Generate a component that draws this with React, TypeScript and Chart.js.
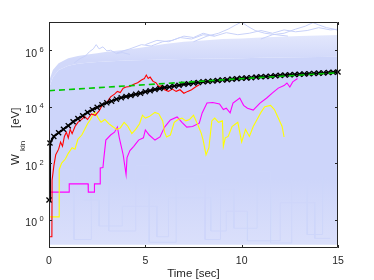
import React, { useEffect, useRef } from "react";
import { Chart, registerables } from "chart.js";

Chart.register(...registerables);

// ---- envelope of the many light-blue traces ----
const blueTime = [0, 0.05, 0.2, 0.5, 1, 1.5, 2, 2.5, 3, 4, 5, 6, 7, 8, 9, 10, 11, 12, 13, 14, 15];
const blueFloor = [0.13, 0.13, 0.13, 0.13, 0.13, 0.13, 0.13, 0.13, 0.13, 0.13, 0.13, 0.13, 0.13, 0.13, 0.13, 0.13, 0.13, 0.13, 0.13, 0.13, 0.13];
const blueDenseTop = [2.5e4, 5.6e4, 1.1e5, 2.0e5, 2.8e5, 3.3e5, 3.6e5, 3.8e5, 4.0e5, 4.3e5, 4.5e5, 4.7e5, 4.9e5, 5.0e5, 5.1e5, 5.25e5, 5.4e5, 5.5e5, 5.6e5, 5.75e5, 5.9e5];
const blueSparseTop = [5.0e4, 1.0e5, 2.0e5, 3.5e5, 5.2e5, 6.3e5, 7.1e5, 7.9e5, 8.9e5, 1.05e6, 1.3e6, 1.65e6, 2.0e6, 2.2e6, 2.5e6, 2.6e6, 2.8e6, 3.0e6, 3.2e6, 3.3e6, 3.5e6];

// ---- a few individual light-blue traces ----
const u1Time = [1.3, 1.6, 1.9, 2.1, 2.3, 2.45, 2.6, 2.8, 3.0, 3.2, 3.5, 3.8, 4.2];
const u1Values = [3.5e5, 5.0e5, 6.3e5, 8.9e5, 1.12e6, 1.58e6, 1.12e6, 1.32e6, 9.5e5, 1.0e6, 7.6e5, 8.3e5, 7.1e5];
const u2Time = [3.5, 4.2, 4.8, 5.3, 5.9, 6.4, 7.0, 7.5, 8.0, 8.6];
const u2Values = [7.9e5, 1.12e6, 1.58e6, 1.41e6, 2.0e6, 2.24e6, 3.16e6, 2.82e6, 4.0e6, 3.16e6];
const u3Time = [7.5, 8.2, 8.8, 9.3, 9.7, 10.0, 10.3, 10.7, 11.2, 11.8, 12.4];
const u3Values = [2.0e6, 3.16e6, 4.0e6, 5.6e6, 7.9e6, 1.0e7, 7.1e6, 5.0e6, 4.0e6, 3.55e6, 3.16e6];
const u4Time = [11.0, 11.6, 12.2, 12.8, 13.3, 13.7, 14.0, 14.4, 14.8, 15];
const u4Values = [2.5e6, 3.55e6, 4.0e6, 5.6e6, 7.1e6, 9.5e6, 7.9e6, 6.3e6, 5.6e6, 5.0e6];
const u5Time = [5.0, 5.6, 6.2, 6.8, 7.4, 8.0, 8.6, 9.2, 9.8, 10.4, 11.0, 11.6, 12.2, 12.8, 13.4, 14.0, 14.6, 15];
const u5Values = [1.58e6, 2.24e6, 2.0e6, 2.82e6, 2.5e6, 3.55e6, 3.16e6, 4.2e6, 3.55e6, 4.0e6, 5.0e6, 4.0e6, 5.25e6, 4.5e6, 5.0e6, 6.3e6, 5.25e6, 5.6e6];
const d1Time = [0.4, 1.3, 1.3, 2.2, 2.2, 3.1, 3.1, 4.5, 4.5, 5.2, 5.2, 6.6, 6.6, 7.5];
const d1Values = [60, 60, 0.2, 0.2, 25, 25, 0.4, 0.4, 80, 80, 0.16, 0.16, 30, 30];
const d2Time = [7.5, 8.1, 8.1, 8.9, 8.9, 9.6, 9.6, 10.8, 10.8, 11.5, 11.5, 12.6, 12.6, 13.4, 13.4, 14.2, 14.2, 15];
const d2Values = [40, 40, 0.2, 0.2, 12, 12, 0.5, 0.5, 50, 50, 0.15, 0.15, 20, 20, 0.3, 0.3, 35, 35];
const d3Time = [1.8, 2.6, 2.6, 3.8, 3.8, 5.6, 5.6, 6.2, 6.2, 8.4, 8.4, 9.2, 9.2, 10.3, 10.3, 12.0, 12.0, 13.8, 13.8, 14.6];
const d3Values = [5, 5, 0.6, 0.6, 3, 3, 0.25, 0.25, 6, 6, 0.4, 0.4, 2, 2, 0.18, 0.18, 4, 4, 0.22, 0.22];

// ---- highlighted traces ----
const redTime = [0, 0.15, 0.16, 0.25, 0.35, 0.5, 0.6, 0.7, 0.8, 0.9, 1.0, 1.1, 1.2, 1.35, 1.5, 1.7, 1.85, 2.0, 2.2, 2.4, 2.6, 2.8, 3.0, 3.2, 3.4, 3.55, 3.7, 3.85, 4.0, 4.2, 4.4, 4.6, 4.8, 4.95, 5.05, 5.15, 5.25, 5.4, 5.55, 5.7, 5.85, 6.0, 6.2, 6.4, 6.6, 6.8, 7.0, 7.2, 7.4, 7.6, 7.8];
const redValues = [0.25, 0.25, 25, 79, 200, 316, 560, 400, 890, 1260, 790, 1580, 1120, 2000, 2800, 3550, 4470, 3550, 5600, 5000, 7100, 1.26e4, 1.41e4, 2.24e4, 2.8e4, 3.5e4, 3.2e4, 4.5e4, 5.0e4, 5.2e4, 6.3e4, 7.1e4, 8.9e4, 1.0e5, 1.32e5, 1.0e5, 1.12e5, 7.9e4, 7.1e4, 5.2e4, 5.6e4, 4.0e4, 3.5e4, 4.2e4, 3.5e4, 4.0e4, 3.0e4, 3.5e4, 4.0e4, 5.0e4, 6.0e4];

const yellowTime = [0, 0.52, 0.53, 0.65, 0.85, 1.0, 1.2, 1.35, 1.5, 1.7, 1.85, 2.0, 2.15, 2.3, 2.4, 2.55, 2.7, 2.9, 3.1, 3.3, 3.5, 3.7, 3.9, 4.1, 4.3, 4.5, 4.7, 4.85, 5.0, 5.2, 5.5, 5.7, 5.9, 6.0, 6.1, 6.3, 6.5, 6.7, 6.9, 7.1, 7.3, 7.5, 7.7, 7.9, 8.0, 8.15, 8.3, 8.45, 8.6, 8.8, 9.0, 9.05, 9.15, 9.3, 9.5, 9.8, 10.0, 10.2, 10.4, 10.6, 10.8, 11.0, 11.2, 11.5, 11.7, 11.9, 12.1, 12.2];
const yellowValues = [1.26, 1.26, 60, 100, 141, 224, 355, 316, 708, 1000, 1580, 2510, 3550, 5620, 6310, 3980, 2820, 3550, 2510, 2000, 1580, 1780, 2820, 2000, 1120, 1580, 2510, 5010, 3980, 4470, 6310, 5620, 3160, 1260, 851, 1000, 2820, 3550, 3980, 3160, 3550, 5010, 2510, 1170, 661, 200, 355, 3160, 3980, 2820, 3160, 398, 794, 891, 2000, 2820, 562, 1580, 891, 2000, 3550, 6310, 1e4, 1.12e4, 7940, 3980, 2000, 851];

const magentaTime = [0, 1.04, 1.05, 2.03, 2.04, 2.35, 2.36, 2.65, 2.66, 2.8, 2.85, 2.95, 3.2, 3.4, 3.55, 3.65, 3.75, 3.85, 4.0, 4.05, 4.2, 4.4, 4.65, 4.9, 5.0, 5.2, 5.5, 5.76, 6.0, 6.3, 6.65, 6.9, 7.15, 7.45, 7.8, 7.95, 8.2, 8.5, 8.85, 9.05, 9.2, 9.4, 9.55, 9.9, 10.1, 10.3, 10.6, 10.95, 11.3, 11.6, 11.9, 12.2, 12.35, 12.5, 12.65, 12.9];
const magentaValues = [9.5, 9.5, 18.6, 18.6, 9.5, 9.5, 18.6, 18.6, 68, 71, 158, 661, 1000, 1260, 1910, 794, 398, 200, 40, 158, 282, 398, 661, 794, 1510, 1000, 661, 851, 1910, 3390, 4370, 2820, 1910, 2000, 2630, 6030, 1.35e4, 1.41e4, 1.26e4, 7940, 8910, 6030, 1.35e4, 2.04e4, 1.12e4, 8910, 7590, 1.35e4, 2.04e4, 3.09e4, 4.57e4, 5.62e4, 6.92e4, 5.01e4, 7.59e4, 1.0e5];

const meanTime = [0, 0.05, 0.25, 0.5, 0.75, 1, 1.25, 1.5, 1.75, 2, 2.25, 2.5, 2.75, 3, 3.25, 3.5, 3.75, 4, 4.25, 4.5, 4.75, 5, 5.25, 5.5, 5.75, 6, 6.25, 6.5, 6.75, 7, 7.25, 7.5, 7.75, 8, 8.25, 8.5, 8.75, 9, 9.25, 9.5, 9.75, 10, 10.25, 10.5, 10.75, 11, 11.25, 11.5, 11.75, 12, 12.25, 12.5, 12.75, 13, 13.25, 13.5, 13.75, 14, 14.25, 14.5, 14.75, 15];
const meanValues = [5, 520, 890, 1200, 1600, 2140, 2950, 3800, 4800, 6300, 7900, 9500, 1.17e4, 1.38e4, 1.58e4, 1.86e4, 2.1e4, 2.3e4, 2.5e4, 2.75e4, 3.0e4, 3.4e4, 3.7e4, 4.1e4, 4.4e4, 4.8e4, 5.0e4, 5.4e4, 5.75e4, 6.2e4, 6.5e4, 6.9e4, 7.2e4, 7.6e4, 7.9e4, 8.1e4, 8.5e4, 8.9e4, 9.1e4, 9.5e4, 9.8e4, 1.02e5, 1.05e5, 1.07e5, 1.12e5, 1.15e5, 1.17e5, 1.2e5, 1.26e5, 1.29e5, 1.32e5, 1.35e5, 1.38e5, 1.41e5, 1.45e5, 1.48e5, 1.51e5, 1.55e5, 1.58e5, 1.62e5, 1.66e5, 1.7e5];

const fitTime = [0, 15];
const fitValues = [3.7e4, 1.6e5];

// ---- axes ----
const xTicks = [0, 5, 10, 15];
const yTicks = [1, 1e2, 1e4, 1e6];
const yTickExponents = ["0", "2", "4", "6"];
const xTitle = "Time [sec]";
const yTitleMain = "W";
const yTitleSub = "kin";
const yTitleUnit = "[eV]";

const FONT = "'Liberation Sans', Arial, Helvetica, sans-serif";
const AXIS_COLOR = "#262626";
const DENSE = "rgb(205,213,250)";
const LINE_BLUE = "rgb(200,209,249)";

const pts = (t: number[], v: number[]) => t.map((x, i) => ({ x, y: v[i] }));

const axesPlugin = {
  id: "matlabAxes",
  afterDraw(chart: any) {
    const { ctx, chartArea: a, scales } = chart;
    const xs = scales.x;
    const ys = scales.y;
    ctx.save();
    ctx.strokeStyle = AXIS_COLOR;
    ctx.lineWidth = 1;
    ctx.beginPath();
    ctx.rect(a.left + 0.5, a.top + 0.5, a.right - a.left - 1, a.bottom - a.top - 1);
    ctx.stroke();
    ctx.beginPath();
    for (const v of xTicks) {
      const px = Math.round(xs.getPixelForValue(v)) + 0.5;
      ctx.moveTo(px, a.bottom);
      ctx.lineTo(px, a.bottom - 3);
      ctx.moveTo(px, a.top);
      ctx.lineTo(px, a.top + 3);
    }
    for (const v of yTicks) {
      const py = Math.round(ys.getPixelForValue(v)) + 0.5;
      ctx.moveTo(a.left, py);
      ctx.lineTo(a.left + 3, py);
      ctx.moveTo(a.right, py);
      ctx.lineTo(a.right - 3, py);
    }
    ctx.stroke();

    ctx.fillStyle = AXIS_COLOR;
    ctx.textBaseline = "alphabetic";
    ctx.font = `10.5px ${FONT}`;
    ctx.textAlign = "center";
    for (const v of xTicks) {
      ctx.fillText(String(v), xs.getPixelForValue(v), a.bottom + 16);
    }
    yTicks.forEach((v, i) => {
      const py = ys.getPixelForValue(v);
      ctx.font = `10.5px ${FONT}`;
      ctx.textAlign = "right";
      ctx.fillText("10", a.left - 12, py + 6.5);
      ctx.font = `7.5px ${FONT}`;
      ctx.textAlign = "left";
      ctx.fillText(yTickExponents[i], a.left - 9.5, py + 1.5);
    });
    ctx.font = `11.5px ${FONT}`;
    ctx.textAlign = "center";
    ctx.fillText(xTitle, (a.left + a.right) / 2, a.bottom + 29);
    ctx.translate(19, 165);
    ctx.rotate(-Math.PI / 2);
    ctx.textAlign = "left";
    ctx.font = `11.5px ${FONT}`;
    ctx.fillText(yTitleMain, 0, 0);
    ctx.font = `8px ${FONT}`;
    ctx.fillText(yTitleSub, 14, 6);
    ctx.font = `11.5px ${FONT}`;
    ctx.fillText(yTitleUnit, 37, 0);
    ctx.restore();
  },
};

function lowerFill(c: any) {
  const chart = c.chart;
  const a = chart.chartArea;
  const ys = chart.scales && chart.scales.y;
  if (!a || !ys) return DENSE;
  const y0 = ys.getPixelForValue(30);
  if (!Number.isFinite(y0) || !Number.isFinite(a.bottom) || a.bottom <= y0) return DENSE;
  const g = chart.ctx.createLinearGradient(0, y0, 0, a.bottom);
  g.addColorStop(0, DENSE);
  g.addColorStop(1, "rgb(219,224,251)");
  return g;
}

function upperFill(c: any) {
  const chart = c.chart;
  const ys = chart.scales && chart.scales.y;
  const fallback = "rgb(218,224,251)";
  if (!ys) return fallback;
  const yTop = ys.getPixelForValue(5e6);
  const yBot = ys.getPixelForValue(4.5e5);
  if (!Number.isFinite(yTop) || !Number.isFinite(yBot) || yBot <= yTop) return fallback;
  const g = chart.ctx.createLinearGradient(0, yTop, 0, yBot);
  g.addColorStop(0, "rgb(230,234,253)");
  g.addColorStop(1, "rgb(209,216,250)");
  return g;
}

export default function App() {
  const ref = useRef<HTMLCanvasElement | null>(null);

  useEffect(() => {
    if (!ref.current) return;
    const thin = (data: any[], color: string, order: number, width = 1) => ({
      data,
      borderColor: color,
      borderWidth: width,
      pointRadius: 0,
      fill: false,
      tension: 0,
      order,
    });
    const chart = new Chart(ref.current, {
      type: "line",
      data: {
        datasets: [
          { data: pts(blueTime, blueFloor), borderWidth: 0, pointRadius: 0, fill: false, order: 20 } as any,
          { data: pts(blueTime, blueDenseTop), borderWidth: 0, pointRadius: 0, fill: "-1", backgroundColor: lowerFill, order: 20 } as any,
          { data: pts(blueTime, blueSparseTop), borderWidth: 0, pointRadius: 0, fill: "-1", backgroundColor: upperFill, order: 20 } as any,
          thin(pts(u1Time, u1Values), LINE_BLUE, 10),
          thin(pts(u2Time, u2Values), LINE_BLUE, 10),
          thin(pts(u3Time, u3Values), LINE_BLUE, 10),
          thin(pts(u4Time, u4Values), LINE_BLUE, 10),
          thin(pts(u5Time, u5Values), LINE_BLUE, 10),
          thin(pts(d1Time, d1Values), "rgb(206,214,250)", 10),
          thin(pts(d2Time, d2Values), "rgb(206,214,250)", 10),
          thin(pts(d3Time, d3Values), "rgb(206,214,250)", 10),
          thin(pts(magentaTime, magentaValues), "rgb(255,0,255)", 4, 1.1),
          thin(pts(yellowTime, yellowValues), "rgb(255,255,0)", 3, 1.1),
          thin(pts(redTime, redValues), "rgb(255,0,0)", 2, 1.1),
          {
            data: pts(meanTime, meanValues),
            borderColor: "#000",
            borderWidth: 2,
            pointStyle: "crossRot",
            pointRadius: 3.6,
            pointBorderWidth: 1.3,
            pointBorderColor: "#000",
            pointBackgroundColor: "#000",
            fill: false,
            tension: 0,
            order: 1,
            clip: false,
          } as any,
          {
            data: pts(fitTime, fitValues),
            borderColor: "rgb(0,200,0)",
            borderWidth: 1.6,
            borderDash: [6, 4],
            pointRadius: 0,
            fill: false,
            tension: 0,
            order: 0,
          } as any,
        ],
      },
      options: {
        responsive: false,
        animation: false,
        events: [],
        layout: { padding: { left: 49, right: 36, top: 22, bottom: 32 } },
        plugins: { legend: { display: false }, tooltip: { enabled: false } },
        scales: {
          x: {
            type: "linear",
            min: 0,
            max: 15,
            grid: { display: false },
            border: { display: false },
            ticks: { display: false },
            afterFit: (s: any) => {
              s.height = 0;
            },
          },
          y: {
            type: "logarithmic",
            min: 0.1,
            max: 1e7,
            grid: { display: false },
            border: { display: false },
            ticks: { display: false },
            afterFit: (s: any) => {
              s.width = 0;
            },
          },
        },
      },
      plugins: [axesPlugin],
    } as any);
    return () => chart.destroy();
  }, []);

  return (
    <div style={{ position: "absolute", left: 0, top: 0, width: 374, height: 280, background: "#fff" }}>
      <canvas ref={ref} width={374} height={280} style={{ display: "block" }} />
    </div>
  );
}
